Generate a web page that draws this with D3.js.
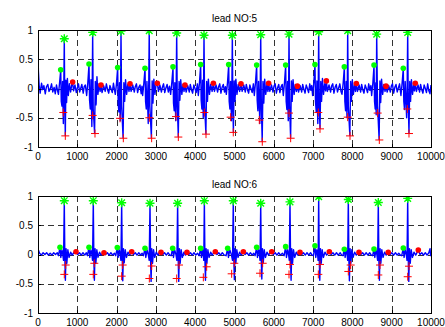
<!DOCTYPE html>
<html>
<head>
<meta charset="utf-8">
<script src="https://cdn.jsdelivr.net/npm/d3@7/dist/d3.min.js"></script>
<style>
  body { margin: 0; background: #fff; }
  svg { display: block; }
  text { font-family: "Liberation Sans", Arial, sans-serif; font-size: 10px; fill: #000; }
</style>
</head>
<body>
<div id="fig"></div>
<script>
// ---- data ----
const xTicks = [0, 1000, 2000, 3000, 4000, 5000, 6000, 7000, 8000, 9000, 10000];
const yTicks = [-1, -0.5, 0, 0.5, 1];
const titles = ["lead NO:5", "lead NO:6"];

// lead 5 markers
const lead5R = [[669,.85],[1391,.96],[2112,.98],[2830,.99],[3529,.95],[4224,.91],[4945,.91],[5667,.92],[6387,.93],[7142,.97],[7880,.99],[8618,.93],[9407,.96]];
const lead5Onset = [[578,.32],[1298,.42],[2027,.36],[2723,.345],[3435,.37],[4139,.41],[4852,.41],[5564,.40],[6302,.40],[7048,.41],[7795,.37],[8550,.40],[9295,.345]];
const lead5T = [[882,.11],[1603,.06],[2341,.08],[3036,.09],[3740,.06],[4462,.09],[5165,.08],[5868,.09],[6600,.04],[7337,.13],[8100,.085],[8855,.04],[9600,.09]];
const lead5Q = [[644,-.41],[1391,-.46],[2087,-.51],[2833,-.50],[3511,-.48],[4233,-.41],[4902,-.49],[5631,-.54],[6387,-.42],[7133,-.41],[7880,-.49],[8643,-.42],[9397,-.35]];
const lead5S = [[695,-.81],[1450,-.77],[2171,-.85],[2892,-.85],[3571,-.83],[4275,-.78],[4969,-.75],[5707,-.91],[6429,-.85],[7176,-.69],[7939,-.81],[8685,-.88],[9440,-.77]];

// lead 6 markers
const lead6R = [[669,.92],[1407,.92],[2129,.885],[2850,.875],[3553,.875],[4233,.92],[4969,.92],[5667,.875],[6412,.90],[7142,.99],[7896,.94],[8659,.89],[9407,.96]];
const lead6Onset = [[560,.123],[1298,.123],[2018,.12],[2723,.107],[3427,.107],[4139,.107],[4826,.107],[5564,.123],[6302,.134],[7048,.15],[7795,.09],[8550,.095],[9295,.11]];
const lead6T = [[967,.048],[1679,.03],[2384,.048],[3130,.037],[3791,.037],[4512,.048],[5225,.048],[5947,.048],[6667,.037],[7413,.048],[8168,.037],[8913,.037],[9677,.077]];
const lead6Q = [[704,-.18],[1433,-.15],[2154,-.18],[2892,-.197],[3588,-.18],[4292,-.21],[4995,-.15],[5717,-.15],[6412,-.17],[7176,-.17],[7956,-.18],[8702,-.18],[9440,-.2]];
const lead6S = [[669,-.34],[1407,-.34],[2129,-.37],[2833,-.41],[3529,-.41],[4207,-.39],[4928,-.33],[5649,-.32],[6387,-.34],[7133,-.34],[7896,-.29],[8659,-.35],[9407,-.38]];

// signal traces [sample, value]
const lead5Trace = [
[0,.7],[10,.3],[30,.05],[55,-.08],[90,.09],[120,-.02],[150,.05],[185,-.09],[215,.03],[250,.07],[280,-.05],[310,-.01],[345,.08],[375,-.06],[410,.02],[440,-.09],[470,.06],[495,-.03],
[520,-.1],[548,.09],[578,.31],[592,-.22],[610,-.3],[625,.12],[645,-.6],[657,.05],[669,.84],[682,-.3],[695,-.8],[710,.14],[728,-.24],[748,.17],[772,-.12],[800,.08],[830,-.06],[860,.07],[882,.1],[905,-.04],[940,.06],[975,-.07],
[1005,.02],[1030,.08],[1060,-.06],[1090,.01],[1115,.07],[1150,-.08],[1175,.03],[1205,.06],
[1238,-.12],[1268,.1],[1298,.41],[1312,-.2],[1330,-.35],[1348,.15],[1370,-.65],[1381,.1],[1391,.95],[1405,-.35],[1440,-.76],[1458,.12],[1478,-.28],[1500,.2],[1525,-.1],[1555,.08],[1580,-.05],[1603,.06],[1630,-.07],[1670,.05],[1710,-.05],
[1740,.08],[1770,-.02],[1800,-.08],[1830,.05],[1860,-.01],[1890,-.07],[1920,.09],[1945,-.02],
[1967,-.1],[1997,.08],[2027,.35],[2040,-.25],[2058,-.4],[2075,.1],[2092,-.55],[2102,.05],[2112,.97],[2128,-.3],[2165,-.84],[2185,.1],[2205,-.22],[2228,.15],[2255,-.1],[2285,.07],[2315,-.05],[2341,.08],[2370,-.05],[2410,.06],[2450,-.06],
[2475,.03],[2505,.08],[2535,-.07],[2565,.02],[2595,.06],[2625,-.09],[2645,.04],
[2663,-.12],[2693,.09],[2723,.34],[2737,-.22],[2755,-.35],[2772,.12],[2805,-.6],[2818,.08],[2830,.98],[2846,-.3],[2885,-.84],[2905,.13],[2925,-.25],[2948,.16],[2975,-.1],[3005,.07],[3036,.09],[3065,-.05],[3100,.06],[3140,-.06],
[3165,.02],[3195,.08],[3225,-.07],[3255,.01],[3285,.07],[3315,-.06],[3345,.04],
[3375,-.1],[3405,.1],[3435,.36],[3448,-.25],[3466,-.38],[3482,.1],[3505,-.55],[3517,.06],[3529,.94],[3545,-.3],[3570,-.82],[3590,.12],[3610,-.2],[3632,.15],[3660,-.1],[3690,.07],[3715,-.05],[3740,.06],[3770,-.06],[3810,.05],[3850,-.06],
[3875,.07],[3905,-.02],[3935,-.08],[3965,.06],[3995,.0],[4025,-.07],[4055,.08],
[4079,-.12],[4109,.1],[4139,.4],[4152,-.2],[4170,-.35],[4187,.14],[4205,-.5],[4214,.05],[4224,.9],[4240,-.3],[4272,-.77],[4292,.12],[4312,-.22],[4335,.16],[4362,-.1],[4395,.07],[4430,-.05],[4462,.09],[4490,-.05],[4530,.06],[4570,-.06],
[4595,.03],[4625,.08],[4655,-.08],[4685,.02],[4715,.07],[4745,-.06],[4770,.03],
[4792,-.1],[4822,.1],[4852,.4],[4865,-.22],[4883,-.35],[4900,.12],[4922,-.55],[4934,.05],[4945,.9],[4958,-.3],[4972,-.74],[4992,.13],[5012,-.22],[5035,.16],[5062,-.1],[5095,.07],[5130,-.05],[5165,.08],[5195,-.05],[5235,.06],[5275,-.06],
[5300,.07],[5330,-.02],[5360,-.08],[5390,.06],[5420,-.01],[5450,-.07],[5480,.08],
[5504,-.12],[5534,.1],[5564,.39],[5577,-.2],[5595,-.38],[5612,.12],[5645,-.6],[5656,.05],[5667,.91],[5683,-.3],[5705,-.9],[5725,.12],[5745,-.25],[5768,.16],[5795,-.1],[5825,.07],[5850,-.05],[5868,.09],[5900,-.05],[5940,.06],[5980,-.06],
[6005,.04],[6035,.08],[6065,-.08],[6095,.01],[6125,.07],[6155,-.07],[6185,.03],[6215,.07],
[6242,-.12],[6272,.1],[6302,.39],[6315,-.22],[6333,-.36],[6350,.12],[6368,-.55],[6378,.05],[6387,.92],[6402,-.3],[6428,-.84],[6448,.13],[6468,-.22],[6490,.15],[6518,-.1],[6548,.07],[6575,-.05],[6600,.04],[6630,-.06],[6670,.05],[6710,-.06],
[6735,.07],[6765,-.01],[6795,-.08],[6825,.06],[6855,.0],[6885,-.07],[6915,.08],[6945,-.03],[6965,.05],
[6988,-.12],[7018,.1],[7048,.4],[7061,-.22],[7080,-.4],[7097,.13],[7120,-.6],[7132,.05],[7142,.96],[7157,-.3],[7176,-.68],[7195,.12],[7215,-.22],[7238,.17],[7265,-.1],[7295,.08],[7320,-.04],[7337,.13],[7365,-.05],[7405,.06],[7445,-.06],
[7470,.04],[7500,.08],[7530,-.08],[7560,.02],[7590,.07],[7620,-.06],[7650,.01],[7680,.08],[7710,-.05],
[7735,-.1],[7765,.09],[7795,.36],[7808,-.22],[7826,-.38],[7843,.12],[7862,-.5],[7871,.06],[7880,.98],[7896,-.3],[7935,-.8],[7955,.12],[7975,-.22],[7998,.15],[8025,-.1],[8055,.07],[8080,-.05],[8100,.085],[8130,-.05],[8170,.06],[8210,-.06],
[8235,.07],[8265,-.02],[8295,-.08],[8325,.06],[8355,.0],[8385,-.07],[8415,.08],[8445,-.03],[8470,.05],
[8490,-.12],[8520,.09],[8550,.39],[8563,-.22],[8580,-.35],[8595,.1],[8605,-.45],[8611,.05],[8618,.92],[8640,-.3],[8680,-.87],[8700,.13],[8720,-.24],[8742,.16],[8770,-.1],[8800,.07],[8830,-.05],[8855,.04],[8885,-.06],[8925,.05],[8965,-.06],
[8990,.04],[9020,.08],[9050,-.08],[9080,.02],[9110,.07],[9140,-.06],[9170,.01],[9200,.08],
[9235,-.12],[9265,.09],[9295,.34],[9308,-.22],[9326,-.36],[9343,.12],[9380,-.5],[9394,.05],[9407,.95],[9422,-.3],[9440,-.76],[9460,.12],[9480,-.22],[9502,.15],[9530,-.1],[9560,.07],[9580,-.04],[9600,.09],[9630,-.05],[9670,.06],[9710,-.06],
[9735,.07],[9765,-.02],[9795,-.08],[9825,.06],[9855,.0],[9885,-.07],[9915,.08],[9945,-.04],[9975,-.09],[10000,.06]
];

const lead6Trace = [
[0,-1],[8,.08],[40,.02],[85,-.01],[130,.03],[175,0],[220,.03],[265,-.01],[310,.02],[355,-.01],[400,.03],[445,0],[490,.03],
[520,-.02],[560,.12],[580,-.05],[610,.08],[630,0],[650,-.1],[669,.91],[684,-.1],[697,-.44],[714,.1],[734,-.15],[760,.08],[790,-.05],[830,.04],[870,-.01],[910,.03],[967,.045],[1010,0],[1055,.03],[1100,-.01],[1145,.03],[1190,-.01],[1230,.03],
[1258,-.02],[1298,.12],[1318,-.05],[1348,.08],[1370,0],[1388,-.1],[1407,.91],[1422,-.1],[1435,-.44],[1452,.1],[1472,-.15],[1497,.08],[1527,-.05],[1565,.04],[1605,-.01],[1640,.02],[1679,.03],[1720,0],[1765,.03],[1810,-.01],[1855,.03],[1900,-.01],[1945,.02],
[1978,-.02],[2018,.12],[2038,-.05],[2068,.08],[2090,0],[2110,-.1],[2129,.875],[2144,-.1],[2157,-.45],[2174,.1],[2194,-.14],[2220,.08],[2250,-.05],[2290,.04],[2330,-.01],[2384,.045],[2430,0],[2475,.03],[2520,-.01],[2565,.03],[2610,-.01],[2650,.02],
[2683,-.02],[2723,.105],[2743,-.05],[2775,.08],[2805,0],[2830,-.1],[2850,.865],[2865,-.1],[2878,-.46],[2895,.1],[2915,-.15],[2940,.08],[2970,-.05],[3010,.04],[3050,-.01],[3090,.03],[3130,.037],[3175,0],[3220,.03],[3265,-.01],[3310,.03],[3355,-.01],
[3387,-.02],[3427,.105],[3447,-.05],[3477,.08],[3510,0],[3534,-.1],[3553,.865],[3568,-.1],[3581,-.46],[3598,.1],[3618,-.15],[3643,.08],[3673,-.05],[3713,.04],[3750,-.01],[3791,.037],[3835,0],[3880,.03],[3925,-.01],[3970,.03],[4015,-.01],[4060,.02],
[4099,-.02],[4139,.105],[4159,-.05],[4189,.08],[4205,0],[4218,-.1],[4233,.91],[4248,-.1],[4261,-.44],[4278,.1],[4298,-.15],[4323,.08],[4353,-.05],[4393,.04],[4433,-.01],[4470,.03],[4512,.045],[4555,0],[4600,.03],[4645,-.01],[4690,.03],[4740,-.01],
[4786,-.02],[4826,.105],[4846,-.05],[4880,.08],[4920,0],[4950,-.1],[4969,.91],[4984,-.1],[4997,-.43],[5014,.1],[5034,-.15],[5059,.08],[5089,-.05],[5129,.04],[5170,-.01],[5225,.045],[5270,0],[5315,.03],[5360,-.01],[5405,.03],[5450,-.01],[5490,.02],
[5524,-.02],[5564,.12],[5584,-.05],[5614,.08],[5635,0],[5650,-.1],[5667,.865],[5682,-.1],[5695,-.42],[5712,.1],[5732,-.14],[5757,.08],[5787,-.05],[5827,.04],[5867,-.01],[5905,.03],[5947,.045],[5990,0],[6035,.03],[6080,-.01],[6125,.03],[6170,-.01],[6220,.02],
[6262,-.02],[6302,.13],[6322,-.05],[6352,.08],[6375,0],[6395,-.1],[6412,.89],[6427,-.1],[6440,-.44],[6457,.1],[6477,-.15],[6502,.08],[6532,-.05],[6572,.04],[6612,-.01],[6667,.037],[6710,0],[6755,.03],[6800,-.01],[6845,.03],[6890,-.01],[6935,.03],[6975,-.01],
[7008,-.02],[7048,.145],[7068,-.05],[7095,.08],[7115,0],[7127,-.1],[7142,.98],[7157,-.1],[7170,-.44],[7187,.1],[7207,-.15],[7232,.08],[7262,-.05],[7302,.04],[7345,-.01],[7413,.045],[7460,0],[7505,.03],[7550,-.01],[7595,.03],[7640,-.01],[7690,.03],[7725,-.01],
[7760,-.02],[7795,.09],[7815,-.05],[7845,.08],[7865,0],[7880,-.1],[7896,.93],[7911,-.1],[7924,-.45],[7941,.1],[7961,-.15],[7986,.08],[8016,-.05],[8056,.04],[8100,-.01],[8168,.037],[8215,0],[8260,.03],[8305,-.01],[8350,.03],[8395,-.01],[8440,.03],[8480,-.01],
[8515,-.02],[8550,.095],[8570,-.05],[8600,.08],[8622,0],[8642,-.1],[8659,.88],[8674,-.1],[8687,-.44],[8704,.1],[8724,-.15],[8749,.08],[8779,-.05],[8819,.04],[8860,-.01],[8913,.037],[8960,0],[9005,.03],[9050,-.01],[9095,.03],[9140,-.01],[9180,.02],[9220,-.01],
[9255,-.02],[9295,.11],[9315,-.05],[9345,.08],[9370,0],[9390,-.1],[9407,.95],[9422,-.1],[9435,-.46],[9452,.1],[9472,-.15],[9497,.08],[9527,-.05],[9567,.04],[9610,-.01],[9677,.075],[9720,0],[9765,.03],[9810,-.01],[9855,.03],[9900,-.01],[9945,.03],[9975,.1],[9990,-.02],[10000,.03]
];

const panels = [
  { title: titles[0], trace: lead5Trace, r: lead5R, onset: lead5Onset, t: lead5T, q: lead5Q, s: lead5S, top: 30, bottom: 147 },
  { title: titles[1], trace: lead6Trace, r: lead6R, onset: lead6Onset, t: lead6T, q: lead6Q, s: lead6S, top: 196, bottom: 313 }
];

const W = 445, H = 327;
const left = 38, right = 431;

const svg = d3.select("#fig").append("svg")
  .attr("width", W).attr("height", H);
svg.append("rect").attr("width", W).attr("height", H).attr("fill", "#fff");

const x = d3.scaleLinear().domain([0, 10000]).range([left, right]);

panels.forEach((p, i) => {
  const y = d3.scaleLinear().domain([-1, 1]).range([p.bottom, p.top]);
  const g = svg.append("g").attr("class", "panel" + i);

  // clip for data
  svg.append("clipPath").attr("id", "clip" + i)
    .append("rect").attr("x", left).attr("y", p.top)
    .attr("width", right - left).attr("height", p.bottom - p.top);

  // grid
  const grid = g.append("g").attr("stroke", "#333").attr("stroke-dasharray", "6,4").attr("stroke-width", 1);
  grid.selectAll("line.vx").data(xTicks.slice(1, -1)).join("line")
    .attr("x1", d => Math.round(x(d)) + 0.5).attr("x2", d => Math.round(x(d)) + 0.5)
    .attr("y1", p.top).attr("y2", p.bottom);
  grid.selectAll("line.hy").data(yTicks.slice(1, -1)).join("line")
    .attr("x1", left).attr("x2", right)
    .attr("y1", d => Math.round(y(d)) + 0.5).attr("y2", d => Math.round(y(d)) + 0.5);

  const data = g.append("g").attr("clip-path", `url(#clip${i})`);

  // signal
  data.append("path")
    .datum(p.trace)
    .attr("fill", "none")
    .attr("stroke", "#0000ff")
    .attr("stroke-width", 1.4)
    .attr("stroke-linejoin", "round")
    .attr("d", d3.line().x(d => x(d[0])).y(d => y(d[1])));

  // red plus markers
  const plus = data.append("g").attr("stroke", "#ff0000").attr("stroke-width", 1).attr("fill", "none");
  plus.selectAll("path").data(p.q.concat(p.s)).join("path")
    .attr("transform", d => `translate(${x(d[0])},${y(d[1])})`)
    .attr("d", "M-4,0H4M0,-4V4");

  // red dots
  data.append("g").selectAll("circle").data(p.t).join("circle")
    .attr("cx", d => x(d[0])).attr("cy", d => y(d[1]))
    .attr("r", 2.8).attr("fill", "#ff0000");

  // green dots
  data.append("g").selectAll("circle").data(p.onset).join("circle")
    .attr("cx", d => x(d[0])).attr("cy", d => y(d[1]))
    .attr("r", 2.8).attr("fill", "#00ff00");

  // green asterisks at R peaks
  const star = data.append("g").attr("stroke", "#00ff00").attr("stroke-width", 1.4).attr("fill", "none");
  star.selectAll("path").data(p.r).join("path")
    .attr("transform", d => `translate(${x(d[0])},${y(d[1])})`)
    .attr("d", "M-4.5,0H4.5M0,-4.5V4.5M-3.3,-3.3L3.3,3.3M-3.3,3.3L3.3,-3.3");

  // box
  g.append("rect")
    .attr("x", left + 0.5).attr("y", p.top + 0.5)
    .attr("width", right - left).attr("height", p.bottom - p.top)
    .attr("fill", "none").attr("stroke", "#000").attr("stroke-width", 1);

  // ticks (inside)
  const tk = g.append("g").attr("stroke", "#000").attr("stroke-width", 1);
  tk.selectAll("line.bx").data(xTicks).join("line")
    .attr("x1", d => Math.round(x(d)) + 0.5).attr("x2", d => Math.round(x(d)) + 0.5)
    .attr("y1", p.bottom).attr("y2", p.bottom - 3);
  tk.selectAll("line.ly").data(yTicks).join("line")
    .attr("class", "ly")
    .attr("x1", left).attr("x2", left + 3)
    .attr("y1", d => Math.round(y(d)) + 0.5).attr("y2", d => Math.round(y(d)) + 0.5);

  // tick labels
  g.append("g").selectAll("text").data(xTicks).join("text")
    .attr("x", d => x(d)).attr("y", p.bottom + 12.5)
    .attr("text-anchor", "middle")
    .text(d => d);
  g.append("g").selectAll("text").data(yTicks).join("text")
    .attr("x", 33).attr("y", d => y(d) + 3.5)
    .attr("text-anchor", "end")
    .text(d => d);

  // title
  g.append("text")
    .attr("x", (left + right) / 2).attr("y", p.top - 8)
    .attr("text-anchor", "middle")
    .text(p.title);
});
</script>
</body>
</html>
